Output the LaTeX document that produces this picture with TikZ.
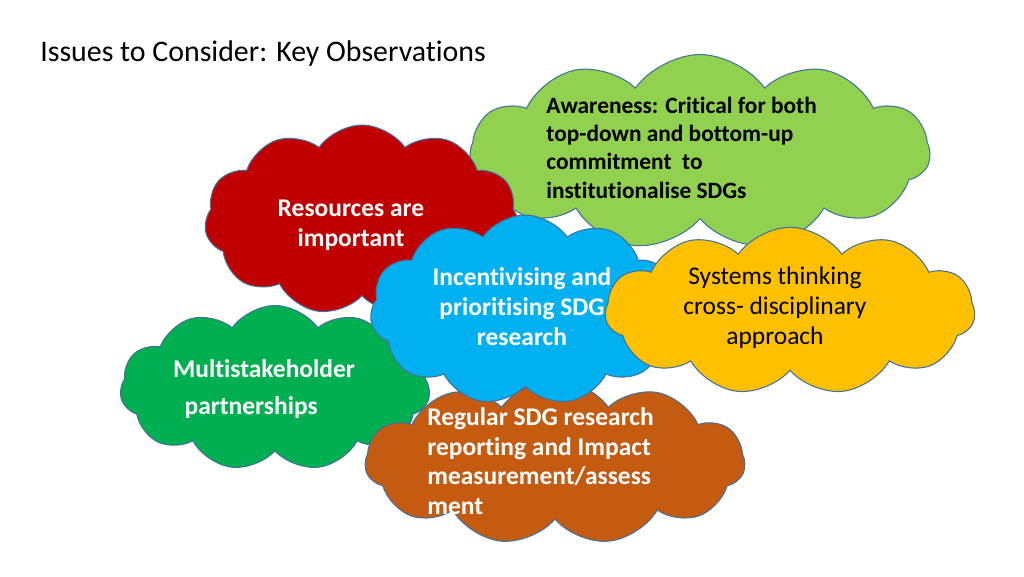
\documentclass[tikz,border=0pt]{standalone}
\usepackage{fontspec}
\setmainfont[Ligatures=CommonOff]{Carlito}
\usetikzlibrary{shapes.symbols}
\definecolor{cgreen}{HTML}{92D050}
\definecolor{cred}{HTML}{C00000}
\definecolor{cblue}{HTML}{00B0F0}
\definecolor{cyellow}{HTML}{FFC000}
\definecolor{cgreenb}{HTML}{00B050}
\definecolor{corange}{HTML}{C55A11}
\definecolor{edge}{HTML}{41719C}
\tikzset{
 puff/.style={cloud, cloud puffs=11, cloud puff arc=110, draw=edge, line width=0.6pt, inner sep=0pt},
 txt/.style={font=\fontsize{14.5}{17}\selectfont\bfseries, align=left},
}
\begin{document}
\begin{tikzpicture}[x=0.02cm,y=-0.02cm]
\useasboundingbox (0,0) rectangle (1024,576);
\node[anchor=west, inner sep=0pt, font=\fontsize{17}{20}\selectfont] (title) at (40,54) {Issues to Consider: Key Observations};
\node[puff, fill=cgreen, minimum width=9.2cm, minimum height=3.9cm] (c1) at (700,152) {};
\node[puff, fill=cred, minimum width=6.3cm, minimum height=3.8cm] (c2) at (362,220) {};
\node[puff, fill=cgreenb, minimum width=6.2cm, minimum height=3.3cm] (c5) at (275,388) {};
\node[puff, fill=corange, minimum width=7.6cm, minimum height=3.3cm] (c6) at (555,462) {};
\node[puff, fill=cblue, minimum width=6.2cm, minimum height=3.8cm] (c3) at (525,310) {};
\node[puff, fill=cyellow, minimum width=7.4cm, minimum height=3.35cm] (c4) at (790,311) {};
\node[txt, anchor=north west, inner sep=0pt, font=\fontsize{13.3}{16}\selectfont\bfseries] (t1) at (546,97) {Awareness: Critical for both\\top-down and bottom-up\\commitment\ \ to\\institutionalise SDGs};
\node[txt, text=white, align=center] (t2) at (351,225) {Resources are\\important};
\node[txt, text=white, align=center] (t3) at (522,307) {Incentivising and\\prioritising SDG\\research};
\node[align=center, font=\fontsize{14.5}{17}\selectfont] (t4) at (775,308) {Systems thinking\\cross- disciplinary\\approach};
\node[txt, text=white, align=left, font=\fontsize{14.5}{21}\selectfont\bfseries] (t5) at (264,389) {Multistakeholder\\\ \ partnerships};
\node[txt, text=white, anchor=north west, inner sep=0pt] (t6) at (427,407) {Regular SDG research\\reporting and Impact\\measurement/assess\\ment};
\end{tikzpicture}
\end{document}
